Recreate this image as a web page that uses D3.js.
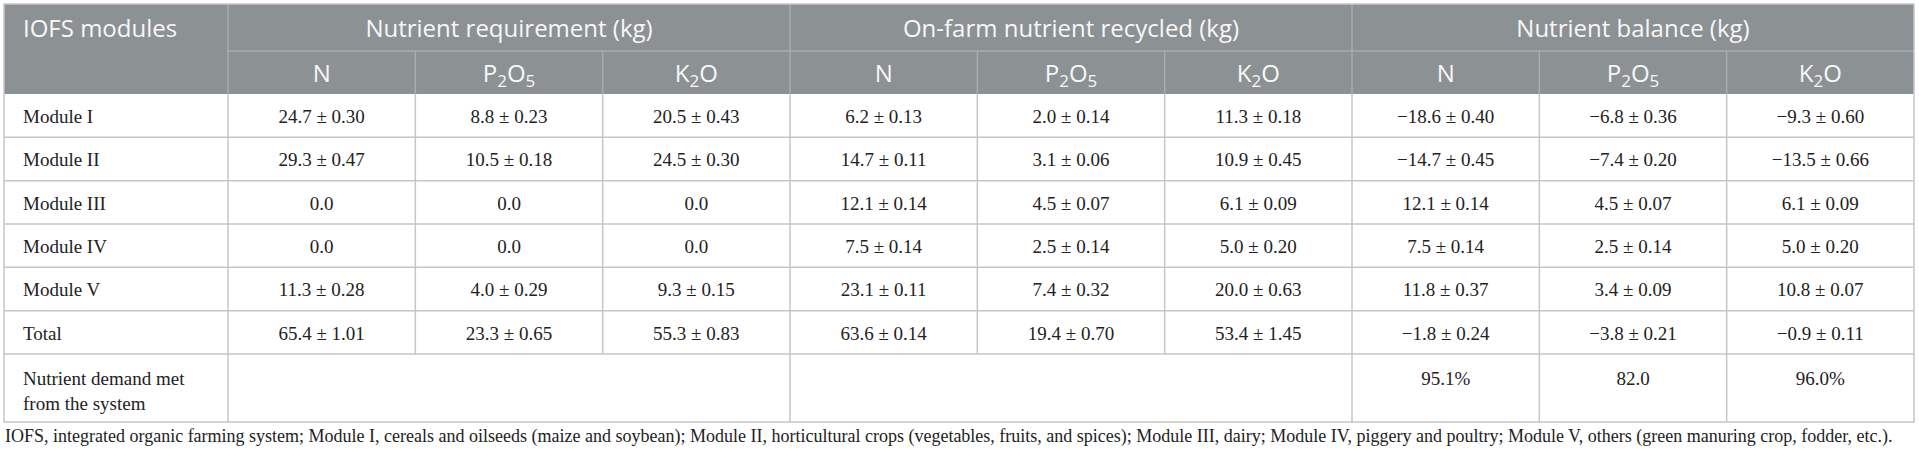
<!DOCTYPE html>
<html>
<head>
<meta charset="utf-8">
<script src="https://cdn.jsdelivr.net/npm/d3@7"></script>
<style>
  body { margin: 0; background: #fff; }
  svg { display: block; }
</style>
</head>
<body>
<svg id="drawing_region"></svg>
<script>
// table content
var groups = ['Nutrient requirement (kg)', 'On-farm nutrient recycled (kg)', 'Nutrient balance (kg)'];
var nutrients = [['N', ''], ['P', '2', 'O', '5'], ['K', '2', 'O']];
var modules = ['Module I', 'Module II', 'Module III', 'Module IV', 'Module V', 'Total'];

var requirement = [
    ['24.7 ± 0.30', '8.8 ± 0.23', '20.5 ± 0.43'],
    ['29.3 ± 0.47', '10.5 ± 0.18', '24.5 ± 0.30'],
    ['0.0', '0.0', '0.0'],
    ['0.0', '0.0', '0.0'],
    ['11.3 ± 0.28', '4.0 ± 0.29', '9.3 ± 0.15'],
    ['65.4 ± 1.01', '23.3 ± 0.65', '55.3 ± 0.83']
];
var recycled = [
    ['6.2 ± 0.13', '2.0 ± 0.14', '11.3 ± 0.18'],
    ['14.7 ± 0.11', '3.1 ± 0.06', '10.9 ± 0.45'],
    ['12.1 ± 0.14', '4.5 ± 0.07', '6.1 ± 0.09'],
    ['7.5 ± 0.14', '2.5 ± 0.14', '5.0 ± 0.20'],
    ['23.1 ± 0.11', '7.4 ± 0.32', '20.0 ± 0.63'],
    ['63.6 ± 0.14', '19.4 ± 0.70', '53.4 ± 1.45']
];
var balance = [
    ['\u221218.6 ± 0.40', '\u22126.8 ± 0.36', '\u22129.3 ± 0.60'],
    ['\u221214.7 ± 0.45', '\u22127.4 ± 0.20', '\u221213.5 ± 0.66'],
    ['12.1 ± 0.14', '4.5 ± 0.07', '6.1 ± 0.09'],
    ['7.5 ± 0.14', '2.5 ± 0.14', '5.0 ± 0.20'],
    ['11.8 ± 0.37', '3.4 ± 0.09', '10.8 ± 0.07'],
    ['\u22121.8 ± 0.24', '\u22123.8 ± 0.21', '\u22120.9 ± 0.11']
];
var demandLabel = ['Nutrient demand met', 'from the system'];
var demandMet = ['95.1%', '82.0', '96.0%'];

var footnote = 'IOFS, integrated organic farming system; Module I, cereals and oilseeds (maize and soybean); ' +
    'Module II, horticultural crops (vegetables, fruits, and spices); Module III, dairy; Module IV, piggery and poultry; ' +
    'Module V, others (green manuring crop, fodder, etc.).';

var width = 1919;
var height = 456;

var left = 4, firstCol = 228, right = 1914;
var tableTop = 4, head1 = 51, head2 = 94, bodyEnd = 354, lastEnd = 422;

var headFill = '#8c9194';
var headLine = '#a9adb0';
var bodyLine = '#c6c6c6';
var headText = '#f7f7f7';
var bodyText = '#222';
var headFont = '"Open Sans", sans-serif';
var bodyFont = '"Liberation Serif", "Times New Roman", serif';

var svg = d3.select('#drawing_region')
    .attr('width', width)
    .attr('height', height);

// one column key per value cell
var colKeys = [];
groups.forEach((g, gi) => nutrients.forEach((n, ni) => colKeys.push(gi * 3 + ni)));

const xscale = d3.scaleBand()
    .domain(colKeys)
    .range([firstCol, right]);

const yscale = d3.scaleBand()
    .domain(modules)
    .range([head2, bodyEnd]);

const groupX = i => xscale(i * 3);
const groupW = xscale.bandwidth() * 3;

// header background
svg.append('rect')
    .attr('x', left).attr('y', tableTop)
    .attr('width', right - left).attr('height', head2 - tableTop)
    .attr('fill', headFill);

// header lines
const hl = svg.append('g').attr('stroke', headLine).attr('stroke-width', 1.5);
hl.append('line')
    .attr('x1', firstCol).attr('x2', right)
    .attr('y1', head1).attr('y2', head1);
hl.append('line')
    .attr('x1', firstCol).attr('x2', firstCol)
    .attr('y1', tableTop).attr('y2', head2);
hl.selectAll('.gdiv')
    .data(d3.range(1, groups.length))
    .join('line')
    .attr('x1', d => groupX(d)).attr('x2', d => groupX(d))
    .attr('y1', tableTop).attr('y2', head2);
hl.selectAll('.cdiv')
    .data(colKeys.filter(d => d % 3 != 0))
    .join('line')
    .attr('x1', d => xscale(d)).attr('x2', d => xscale(d))
    .attr('y1', head1).attr('y2', head2);

// header texts
svg.append('text')
    .attr('x', 23).attr('y', 37)
    .attr('font-family', headFont).attr('font-size', 24)
    .attr('fill', headText)
    .text('IOFS modules');

svg.selectAll('.group')
    .data(groups)
    .join('text')
    .attr('x', (d, i) => groupX(i) + groupW / 2)
    .attr('y', 37)
    .attr('text-anchor', 'middle')
    .attr('font-family', headFont).attr('font-size', 24)
    .attr('fill', headText)
    .text(d => d);

colKeys.forEach(k => {
    const parts = nutrients[k % 3];
    const t = svg.append('text')
        .attr('x', xscale(k) + xscale.bandwidth() / 2)
        .attr('y', 82)
        .attr('text-anchor', 'middle')
        .attr('font-family', headFont).attr('font-size', 24)
        .attr('fill', headText);
    parts.forEach((p, i) => {
        if (p === '') return;
        const sub = i % 2 == 1;
        t.append('tspan')
            .attr('font-size', sub ? 17 : 24)
            .attr('dy', sub ? 5 : (i > 0 ? -5 : 0))
            .text(p);
    });
});

// body grid
const bl = svg.append('g').attr('stroke', bodyLine).attr('stroke-width', 1.5).attr('fill', 'none');
bl.selectAll('.rowline')
    .data(modules)
    .join('line')
    .attr('x1', left).attr('x2', right)
    .attr('y1', d => yscale(d) + yscale.bandwidth())
    .attr('y2', d => yscale(d) + yscale.bandwidth());
bl.selectAll('.coldiv')
    .data(colKeys)
    .join('line')
    .attr('x1', d => xscale(d)).attr('x2', d => xscale(d))
    .attr('y1', head2).attr('y2', bodyEnd);
// last row: merged cells for the first two groups
bl.selectAll('.lastdiv')
    .data([0, 3, 6, 7, 8])
    .join('line')
    .attr('x1', d => xscale(d)).attr('x2', d => xscale(d))
    .attr('y1', bodyEnd).attr('y2', lastEnd);
bl.append('rect')
    .attr('x', left).attr('y', tableTop)
    .attr('width', right - left).attr('height', lastEnd - tableTop);

// body texts
svg.selectAll('.mod')
    .data(modules)
    .join('text')
    .attr('x', 23)
    .attr('y', d => yscale(d) + 29)
    .attr('font-family', bodyFont).attr('font-size', 19)
    .attr('fill', bodyText)
    .text(d => d);

var tables = [requirement, recycled, balance];
tables.forEach((tab, gi) => {
    tab.forEach((row, ri) => {
        svg.selectAll(null)
            .data(row)
            .join('text')
            .attr('x', (d, ni) => xscale(gi * 3 + ni) + xscale.bandwidth() / 2)
            .attr('y', yscale(modules[ri]) + 29)
            .attr('text-anchor', 'middle')
            .attr('font-family', bodyFont).attr('font-size', 19)
            .attr('fill', bodyText)
            .text(d => d);
    });
});

svg.selectAll('.dl')
    .data(demandLabel)
    .join('text')
    .attr('x', 23)
    .attr('y', (d, i) => bodyEnd + 31 + i * 25)
    .attr('font-family', bodyFont).attr('font-size', 19)
    .attr('fill', bodyText)
    .text(d => d);

svg.selectAll('.dm')
    .data(demandMet)
    .join('text')
    .attr('x', (d, i) => xscale(6 + i) + xscale.bandwidth() / 2)
    .attr('y', bodyEnd + 31)
    .attr('text-anchor', 'middle')
    .attr('font-family', bodyFont).attr('font-size', 19)
    .attr('fill', bodyText)
    .text(d => d);

// footnote
svg.append('text')
    .attr('x', 5).attr('y', 442)
    .attr('font-family', bodyFont).attr('font-size', 18)
    .attr('fill', bodyText)
    .text(footnote);
</script>
</body>
</html>
